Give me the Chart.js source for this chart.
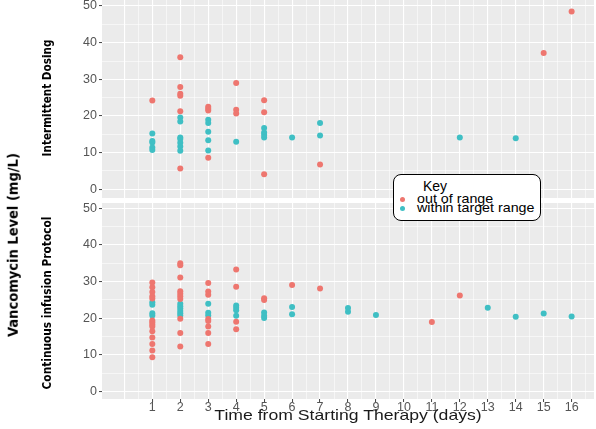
<!DOCTYPE html>
<html><head><meta charset="utf-8">
<script src="https://cdn.jsdelivr.net/npm/chart.js@4/dist/chart.umd.min.js"></script>
<style>
html,body{margin:0;padding:0;background:#fff;}
#wrap{position:relative;width:596px;height:429px;overflow:hidden;font-family:"Liberation Sans",Arial,sans-serif;}
.box{position:absolute;left:0;width:596px;}
.rot{position:absolute;white-space:nowrap;font-weight:bold;color:#000;line-height:1;
 font-family:"Liberation Sans Narrow","DejaVu Sans Condensed","Liberation Sans",sans-serif;
 transform:translate(-50%,-50%) rotate(-90deg);}
#xt{position:absolute;white-space:nowrap;color:#1a1a1a;line-height:1;transform:translate(-50%,-50%) scale(1,0.8);}
#key{position:absolute;left:393px;top:174px;width:146px;height:45px;border:1.5px solid #000;border-radius:8px;background:#fff;}
#key .t{position:absolute;left:29px;top:3px;font-size:14px;color:#000;line-height:16px;}
#key .it{position:absolute;left:23px;font-size:14px;color:#000;line-height:12px;white-space:nowrap;transform-origin:0 50%;transform:scale(1.02,0.85);}
#key .d{position:absolute;left:6px;width:5px;height:5px;border-radius:50%;}
</style></head><body>
<div id="wrap">
 <div class="box" style="top:-6px;height:204px"><canvas id="c1"></canvas></div>
 <div class="box" style="top:203px;height:226px"><canvas id="c2"></canvas></div>
 <div class="rot" id="tY" style="left:13px;top:245px">Vancomycin Level (mg/L)</div>
 <div class="rot" id="tA" style="left:48px;top:98px">Intermittent Dosing</div>
 <div class="rot" id="tB" style="left:48px;top:303px">Continuous infusion Protocol</div>
 <div id="xt" style="left:348px;top:416px">Time from Starting Therapy (days)</div>
 <div id="key">
  <div class="t">Key</div>
  <div class="d" style="top:22px;background:#EE766F"></div>
  <div class="it" style="top:18px">out of range</div>
  <div class="d" style="top:31px;background:#3FBFC4"></div>
  <div class="it" style="top:27px">within target range</div>
 </div>
</div>
<script>
// ---- Data (days, vancomycin level mg/L) ----
const intermittentOutDays   = [1, 2,2,2,2,2,2, 3,3,3,3, 4,4,4, 5,5,5, 7, 15, 16];
const intermittentOutLevels = [24.2, 36.0,27.9,26.1,25.5,21.3,5.7, 22.5,22.0,21.5,8.6, 29.0,21.7,20.7, 24.3,21.0,4.1, 6.8, 37.2, 48.5];
const intermittentInDays    = [1,1,1,1,1, 2,2,2,2,2,2,2, 3,3,3,3,3, 4, 5,5,5,5, 6, 7,7, 12, 14];
const intermittentInLevels  = [15.2,13.2,12.8,11.4,10.7, 19.6,18.5,14.1,13.7,12.7,11.7,10.5, 19.0,18.1,15.7,13.4,10.6, 13.0, 16.7,15.5,14.9,14.1, 14.1, 18.1,14.7, 14.1, 13.9];

const continuousOutDays   = [1,1,1,1,1,1,1,1,1,1,1,1,1,1, 2,2,2,2,2,2,2,2,2,2, 3,3,3,3,3,3,3,3, 4,4,4,4, 5,5, 6, 7, 11, 12];
const continuousOutLevels = [29.8,28.5,27.2,26.0,25.4,19.4,18.9,18.3,17.8,16.5,14.8,13.0,11.2,9.4,
                             35.0,34.5,31.1,27.4,26.7,26.0,25.3,19.9,16.0,12.3,
                             29.6,27.3,26.4,19.8,19.3,17.8,16.0,13.0,
                             33.3,28.6,19.1,17.0, 25.5,25.0, 29.1, 28.1, 19.0, 26.2];
const continuousInDays    = [1,1,1,1, 2,2,2,2,2,2, 3,3,3, 4,4,4,4, 5,5,5, 6,6, 8,8, 9, 13, 14, 15, 16];
const continuousInLevels  = [24.4,23.7,21.4,20.8, 24.0,23.3,22.7,22.0,21.4,20.8, 24.0,21.5,20.8, 23.5,22.9,22.2,20.7, 21.6,20.7,20.1, 23.1,21.1, 22.8,21.8, 20.9, 22.9, 20.4, 21.3, 20.5];

const seriesNames = ['out of range', 'within target range'];
const xTickLabels = ['1','2','3','4','5','6','7','8','9','10','11','12','13','14','15','16'];
const yTickLabels = ['0','10','20','30','40','50'];

// ---- Styling ----
const RED = '#EE766F', CYAN = '#3FBFC4';
const pts = (d, v) => d.map((x, i) => ({x: x, y: v[i]}));
const xGridVals = []; for (let v = 0; v <= 16.5; v += 0.5) xGridVals.push(v);
const yGridVals = []; for (let v = 0; v <= 50; v += 5) yGridVals.push(v);
const fontFam = '"Liberation Sans", Arial, sans-serif';

const panelBg = {id: 'panelBg', beforeDraw(chart) {
  const {ctx, chartArea: a} = chart; ctx.save(); ctx.fillStyle = '#EBEBEB';
  ctx.fillRect(a.left, a.top, a.right - a.left, a.bottom - a.top); ctx.restore(); }};

function makeChart(id, outD, outV, inD, inV, yMin, yMax, showX, padTop) {
  return new Chart(document.getElementById(id), {
    type: 'scatter',
    data: {datasets: [
      {label: seriesNames[0], data: pts(outD, outV), backgroundColor: RED, borderWidth: 0, pointRadius: 3, pointHoverRadius: 3},
      {label: seriesNames[1], data: pts(inD, inV), backgroundColor: CYAN, borderWidth: 0, pointRadius: 3, pointHoverRadius: 3}
    ]},
    options: {
      responsive: true, maintainAspectRatio: false, animation: false,
      layout: {autoPadding: false, padding: {left: 0, right: 2, top: padTop, bottom: 0}},
      plugins: {legend: {display: false}, tooltip: {enabled: false}},
      scales: {
        x: {
          type: 'linear', min: -0.8, max: 16.8,
          afterBuildTicks: s => { s.ticks = xGridVals.map(v => ({value: v})); },
          afterFit: s => { s.height = showX ? 30 : 0; s.paddingLeft = 0; s.paddingRight = 0; },
          border: {display: false},
          grid: {color: '#FFFFFF', drawTicks: showX, tickLength: 3, tickWidth: 1,
                 lineWidth: c => (c.tick && Number.isInteger(c.tick.value)) ? 1.1 : 0.55,
                 tickColor: c => (c.tick && Number.isInteger(c.tick.value) && c.tick.value >= 1) ? '#444' : 'rgba(0,0,0,0)'},
          ticks: {display: showX, autoSkip: false, maxRotation: 0, padding: -2, color: '#555',
                  font: {family: fontFam, size: 12.5},
                  callback: v => { const i = xTickLabels.indexOf(String(v)); return i >= 0 ? xTickLabels[i] : ''; }}
        },
        y: {
          type: 'linear', min: yMin, max: yMax,
          afterBuildTicks: s => { s.ticks = yGridVals.map(v => ({value: v})); },
          afterFit: s => { s.width = 102; s.paddingTop = 0; s.paddingBottom = 0; },
          border: {display: false},
          grid: {color: '#FFFFFF', drawTicks: true, tickLength: 3, tickWidth: 1,
                 lineWidth: c => (c.tick && c.tick.value % 10 === 0) ? 1.1 : 0.55,
                 tickColor: c => (c.tick && c.tick.value % 10 === 0) ? '#444' : 'rgba(0,0,0,0)'},
          ticks: {autoSkip: false, padding: 2, color: '#555', font: {family: fontFam, size: 12.5},
                  callback: v => { const i = yTickLabels.indexOf(String(v)); return i >= 0 ? yTickLabels[i] : ''; }}
        }
      }
    },
    plugins: [panelBg]
  });
}

makeChart('c1', intermittentOutDays, intermittentOutLevels, intermittentInDays, intermittentInLevels, -2.37, 51.64, false, 6);
makeChart('c2', continuousOutDays, continuousOutLevels, continuousInDays, continuousInLevels, -1.99, 51.44, true, 0);

// fit rotated / axis titles to their measured lengths in the reference
function fit(id, len, weight) {
  const el = document.getElementById(id);
  const fam = getComputedStyle(el).fontFamily;
  const c = document.createElement('canvas').getContext('2d');
  c.font = weight + ' 100px ' + fam;
  const w = c.measureText(el.textContent).width;
  el.style.fontSize = (100 * len / w) + 'px';
}
fit('tY', 184, 'bold');
fit('tA', 117, 'bold');
fit('tB', 173, 'bold');
fit('xt', 268, 'normal');
</script>
</body></html>
